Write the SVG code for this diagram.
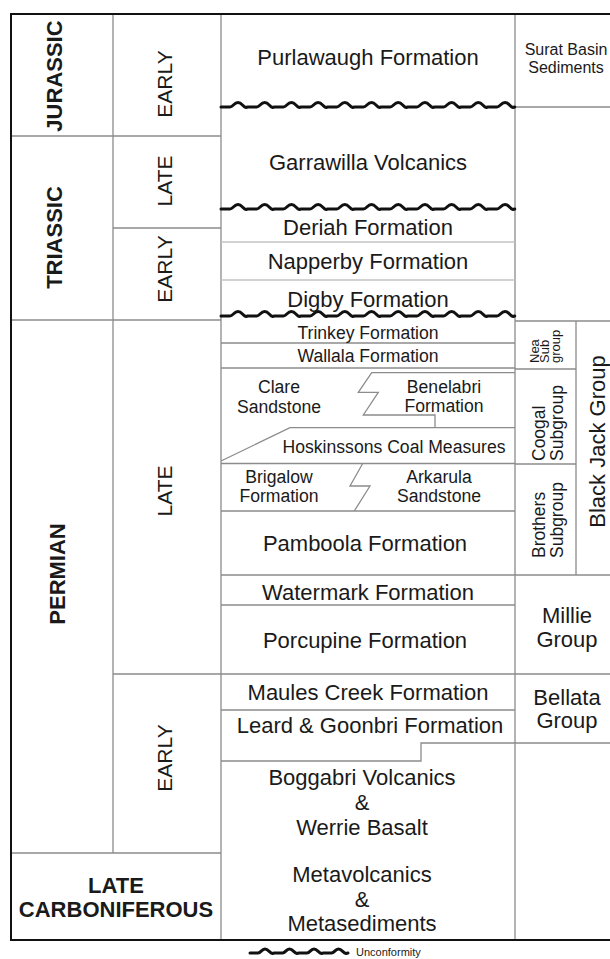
<svg xmlns="http://www.w3.org/2000/svg" width="610" height="959" viewBox="0 0 610 959">
<style>
text{font-family:"Liberation Sans",Arial,sans-serif;fill:#1a1a1a}
.big{font-size:22px;text-anchor:middle}
.sm{font-size:17.6px;text-anchor:middle}
.bold{font-size:22px;font-weight:bold;text-anchor:middle}
.age{font-size:21px;text-anchor:middle}
.tiny{font-size:13px}
.sub{font-size:17.5px}
.g{stroke:#8c8c8c;stroke-width:1.3;fill:none}
.lt{stroke:#c4c4c4;stroke-width:1.3;fill:none}
.unc{stroke:#111;stroke-width:3;fill:none;stroke-linejoin:round;stroke-linecap:round}
</style>
<rect width="610" height="959" fill="#fff"/>
<g id="grid">
<path class="g" d="M113,14V853 M221,14V940 M515,14V940 M11,136H221 M113,228H221 M11,320H221 M113,674H610 M11,853H221 M515,107H610 M515,321H610 M576,321V575 M515,369H576 M515,464H576 M221,575H610 M221,605H515 M221,710H515 M221,761H421V743H610 M221,343H515 M221,368H515 M515,372.7H371.7L358.3,392.3H378.3L363.3,415H435V427.7 M515,427.7H290L221,461 M221,463.5H515 M362.7,463.5L350,486H370L354.3,511 M221,511H515"/>
<path class="lt" d="M221,242H515 M221,280H515"/>
<path fill="none" stroke="#111" stroke-width="2" d="M611,14H11V940H611"/>
</g>
<g id="unconformities">
<path class="unc" d="M221,107 l9,0 c3,0 4,-4.5 8,-4.5 c4,0 5,4.5 8,5 l1.7,-0.5 l9,0 c3,0 4,-4.5 8,-4.5 c4,0 5,4.5 8,5 l1.7,-0.5 l9,0 c3,0 4,-4.5 8,-4.5 c4,0 5,4.5 8,5 l1.7,-0.5 l9,0 c3,0 4,-4.5 8,-4.5 c4,0 5,4.5 8,5 l1.7,-0.5 l9,0 c3,0 4,-4.5 8,-4.5 c4,0 5,4.5 8,5 l1.7,-0.5 l9,0 c3,0 4,-4.5 8,-4.5 c4,0 5,4.5 8,5 l1.7,-0.5 l9,0 c3,0 4,-4.5 8,-4.5 c4,0 5,4.5 8,5 l1.7,-0.5 l9,0 c3,0 4,-4.5 8,-4.5 c4,0 5,4.5 8,5 l1.7,-0.5 l9,0 c3,0 4,-4.5 8,-4.5 c4,0 5,4.5 8,5 l1.7,-0.5 l9,0 c3,0 4,-4.5 8,-4.5 c4,0 5,4.5 8,5 l1.7,-0.5 l9,0 c3,0 4,-4.5 8,-4.5 c4,0 5,4.5 8,5 l1.7,-0.5"/>
<path class="unc" d="M221,209 l9,0 c3,0 4,-4.5 8,-4.5 c4,0 5,4.5 8,5 l1.7,-0.5 l9,0 c3,0 4,-4.5 8,-4.5 c4,0 5,4.5 8,5 l1.7,-0.5 l9,0 c3,0 4,-4.5 8,-4.5 c4,0 5,4.5 8,5 l1.7,-0.5 l9,0 c3,0 4,-4.5 8,-4.5 c4,0 5,4.5 8,5 l1.7,-0.5 l9,0 c3,0 4,-4.5 8,-4.5 c4,0 5,4.5 8,5 l1.7,-0.5 l9,0 c3,0 4,-4.5 8,-4.5 c4,0 5,4.5 8,5 l1.7,-0.5 l9,0 c3,0 4,-4.5 8,-4.5 c4,0 5,4.5 8,5 l1.7,-0.5 l9,0 c3,0 4,-4.5 8,-4.5 c4,0 5,4.5 8,5 l1.7,-0.5 l9,0 c3,0 4,-4.5 8,-4.5 c4,0 5,4.5 8,5 l1.7,-0.5 l9,0 c3,0 4,-4.5 8,-4.5 c4,0 5,4.5 8,5 l1.7,-0.5 l9,0 c3,0 4,-4.5 8,-4.5 c4,0 5,4.5 8,5 l1.7,-0.5"/>
<path class="unc" d="M221,316 l9,0 c3,0 4,-4.5 8,-4.5 c4,0 5,4.5 8,5 l1.7,-0.5 l9,0 c3,0 4,-4.5 8,-4.5 c4,0 5,4.5 8,5 l1.7,-0.5 l9,0 c3,0 4,-4.5 8,-4.5 c4,0 5,4.5 8,5 l1.7,-0.5 l9,0 c3,0 4,-4.5 8,-4.5 c4,0 5,4.5 8,5 l1.7,-0.5 l9,0 c3,0 4,-4.5 8,-4.5 c4,0 5,4.5 8,5 l1.7,-0.5 l9,0 c3,0 4,-4.5 8,-4.5 c4,0 5,4.5 8,5 l1.7,-0.5 l9,0 c3,0 4,-4.5 8,-4.5 c4,0 5,4.5 8,5 l1.7,-0.5 l9,0 c3,0 4,-4.5 8,-4.5 c4,0 5,4.5 8,5 l1.7,-0.5 l9,0 c3,0 4,-4.5 8,-4.5 c4,0 5,4.5 8,5 l1.7,-0.5 l9,0 c3,0 4,-4.5 8,-4.5 c4,0 5,4.5 8,5 l1.7,-0.5 l9,0 c3,0 4,-4.5 8,-4.5 c4,0 5,4.5 8,5 l1.7,-0.5"/>
</g>
<g id="periods">
<g id="jurassic"><text class="bold" transform="translate(62,76) rotate(-90)">JURASSIC</text></g>
<g id="triassic"><text class="bold" transform="translate(62,237.5) rotate(-90)">TRIASSIC</text></g>
<g id="permian"><text class="bold" transform="translate(64.5,574) rotate(-90)">PERMIAN</text></g>
<g id="late-carboniferous"><text class="bold" x="116" y="893">LATE</text><text class="bold" x="116" y="917">CARBONIFEROUS</text></g>
</g>
<g id="epochs">
<g id="early-jurassic"><text class="age" transform="translate(172,84) rotate(-90)">EARLY</text></g>
<g id="late-triassic"><text class="age" transform="translate(172,181) rotate(-90)">LATE</text></g>
<g id="early-triassic"><text class="age" transform="translate(172,269) rotate(-90)">EARLY</text></g>
<g id="late-permian"><text class="age" transform="translate(172,491) rotate(-90)">LATE</text></g>
<g id="early-permian"><text class="age" transform="translate(172,758) rotate(-90)">EARLY</text></g>
</g>
<g id="formations">
<g id="purlawaugh"><text class="big" x="368" y="65">Purlawaugh Formation</text></g>
<g id="garrawilla"><text class="big" x="368" y="170">Garrawilla Volcanics</text></g>
<g id="deriah"><text class="big" x="368" y="235">Deriah Formation</text></g>
<g id="napperby"><text class="big" x="368" y="269">Napperby Formation</text></g>
<g id="digby"><text class="big" x="368" y="307">Digby Formation</text></g>
<g id="trinkey"><text class="sm" x="368" y="339">Trinkey Formation</text></g>
<g id="wallala"><text class="sm" x="368" y="362">Wallala Formation</text></g>
<g id="clare"><text class="sm" x="279" y="393">Clare</text><text class="sm" x="279" y="413">Sandstone</text></g>
<g id="benelabri"><text class="sm" x="444" y="393">Benelabri</text><text class="sm" x="444" y="412">Formation</text></g>
<g id="hoskinssons"><text class="sm" x="394" y="453">Hoskinssons Coal Measures</text></g>
<g id="brigalow"><text class="sm" x="279" y="483">Brigalow</text><text class="sm" x="279" y="502">Formation</text></g>
<g id="arkarula"><text class="sm" x="439" y="483">Arkarula</text><text class="sm" x="439" y="502">Sandstone</text></g>
<g id="pamboola"><text class="big" x="365" y="551">Pamboola Formation</text></g>
<g id="watermark"><text class="big" x="368" y="600">Watermark Formation</text></g>
<g id="porcupine"><text class="big" x="365" y="648">Porcupine Formation</text></g>
<g id="maules-creek"><text class="big" x="368" y="700">Maules Creek Formation</text></g>
<g id="leard-goonbri"><text class="big" x="370" y="733">Leard &amp; Goonbri Formation</text></g>
<g id="boggabri"><text class="big" x="362" y="785">Boggabri Volcanics</text><text class="big" x="362" y="810">&amp;</text><text class="big" x="362" y="835">Werrie Basalt</text></g>
<g id="metavolcanics"><text class="big" x="362" y="882">Metavolcanics</text><text class="big" x="362" y="907">&amp;</text><text class="big" x="362" y="931">Metasediments</text></g>
</g>
<g id="groups">
<g id="surat"><text x="566" y="55" style="font-size:16px;text-anchor:middle">Surat Basin</text><text x="566" y="73" style="font-size:16px;text-anchor:middle">Sediments</text></g>
<g id="nea"><text class="tiny" transform="translate(538.5,363) rotate(-90)">Nea</text><text class="tiny" transform="translate(548.5,363) rotate(-90)">Sub</text><text class="tiny" transform="translate(559.5,363) rotate(-90)">group</text></g>
<g id="coogal"><text class="sub" transform="translate(545,461) rotate(-90)">Coogal</text><text class="sub" transform="translate(563,461) rotate(-90)">Subgroup</text></g>
<g id="brothers"><text class="sub" transform="translate(545,558) rotate(-90)">Brothers</text><text class="sub" transform="translate(563,558) rotate(-90)">Subgroup</text></g>
<g id="black-jack"><text class="big" transform="translate(605,441.5) rotate(-90)">Black Jack Group</text></g>
<g id="millie"><text class="big" x="567" y="623">Millie</text><text class="big" x="567" y="647">Group</text></g>
<g id="bellata"><text class="big" x="567" y="705">Bellata</text><text class="big" x="567" y="728">Group</text></g>
</g>
<g id="legend">
<path class="unc" d="M250,953 l8,0 c3,0 3.5,-4 7,-4 c3.5,0 4.5,4 7.5,4.5 l2,-0.5 l8,0 c3,0 3.5,-4 7,-4 c3.5,0 4.5,4 7.5,4.5 l2,-0.5 l8,0 c3,0 3.5,-4 7,-4 c3.5,0 4.5,4 7.5,4.5 l2,-0.5 l8,0 c3,0 3.5,-4 7,-4 c3.5,0 4.5,4 7.5,4.5 l2,-0.5"/>
<text x="356" y="956" style="font-size:11px">Unconformity</text>
</g>
</svg>
